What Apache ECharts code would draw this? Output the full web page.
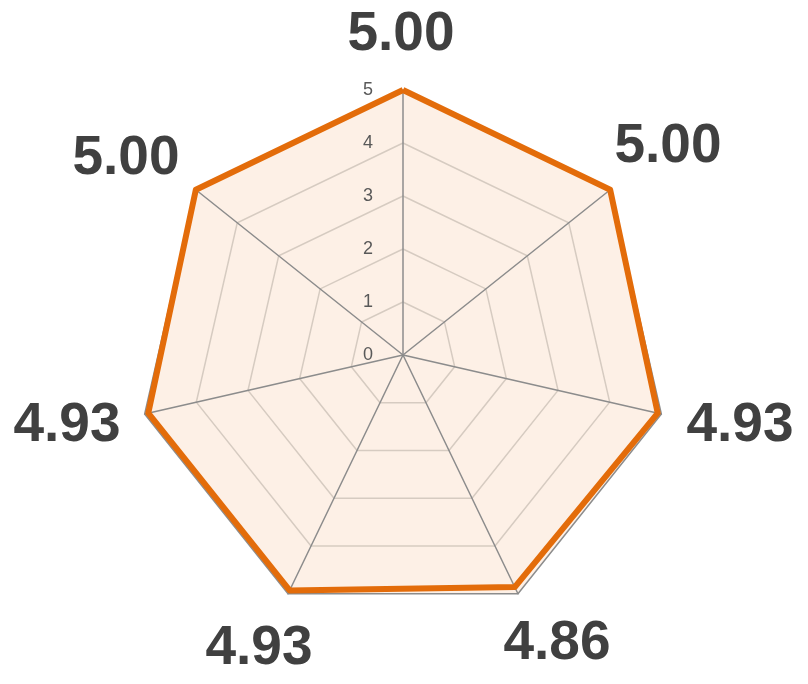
<!DOCTYPE html>
<html><head><meta charset="utf-8">
<script src="https://cdn.jsdelivr.net/npm/echarts@6/dist/echarts.min.js"></script>
<style>html,body{margin:0;padding:0;background:#fff}#c{width:808px;height:684px}</style>
</head><body><div id="c"></div>
<script>
// counterclockwise from top (ECharts radar order)
const indicatorNames = ['5.00', '5.00', '4.93', '4.93', '4.86', '4.93', '5.00'];
const values = [5.00, 5.00, 4.93, 4.93, 4.86, 4.93, 5.00];
const maxValue = 5;
const tickLabels = ['0', '1', '2', '3', '4', '5'];

const CX = 403, CY = 355, R = 265;
// label anchor offsets from the radar centre (layout only), same order as indicators
const nameOffsets = [[-2, -320], [-277, -196], [-336, 71], [-144, 294], [154, 289], [337, 71], [265, -208]];

const chart = echarts.init(document.getElementById('c'));
chart.setOption({
  animation: false,
  polar: { center: [CX, CY], radius: R },
  angleAxis: { startAngle: 90, show: false, min: 0, max: 360 },
  radiusAxis: {
    min: 0, max: maxValue, interval: 1, z: 10,
    axisLine: { show: false }, axisTick: { show: false }, splitLine: { show: false },
    axisLabel: { show: true, fontSize: 18, color: '#595959', fontFamily: 'Liberation Sans, Arial', margin: 30,
      formatter: v => tickLabels[v] }
  },
  radar: {
    center: [CX, CY], radius: R, startAngle: 90, splitNumber: 5,
    indicator: indicatorNames.map(n => ({ name: n, max: maxValue, min: 0 })),
    axisName: { show: false },
    axisLine: { lineStyle: { color: '#8c8c8c', width: 1.5 } },
    splitLine: { lineStyle: { color: ['#d6cbc1', '#d6cbc1', '#d6cbc1', '#d6cbc1', '#d6cbc1', '#8c8c8c'], width: 1.5 } },
    splitArea: { show: true, areaStyle: { color: ['#fdf0e6'] } },
    axisLabel: { show: false }
  },
  series: [{
    type: 'radar',
    symbol: 'none',
    z: 5,
    lineStyle: { color: '#e36c0a', width: 6 },
    data: [{ value: values, lineStyle: { color: '#e36c0a', width: 6 } }]
  }],
  graphic: indicatorNames.map((n, i) => ({
    type: 'text',
    x: CX + nameOffsets[i][0],
    y: CY + nameOffsets[i][1],
    style: {
      text: n, fill: '#404040', font: 'bold 55px "Liberation Sans", Arial',
      align: 'center', verticalAlign: 'middle'
    }
  }))
});
</script></body></html>
